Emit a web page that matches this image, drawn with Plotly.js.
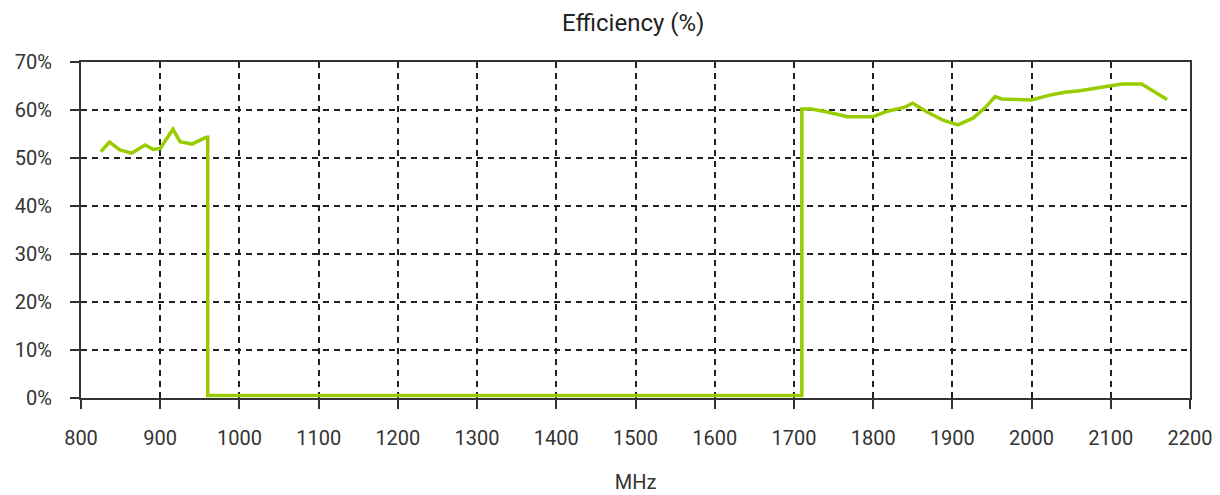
<!DOCTYPE html>
<html>
<head>
<meta charset="utf-8">
<script src="https://cdn.plot.ly/plotly-3.0.1.min.js"></script>
<style>html,body{margin:0;padding:0;background:#fff;}#chart{width:1220px;height:495px;}</style>
</head>
<body>
<div id="chart"></div>
<script>
const freqMHz = [825, 836, 849, 864, 881, 891, 900, 916, 925, 940, 958, 960, 960, 1710, 1710, 1722, 1739, 1752, 1768, 1800, 1817, 1840, 1850, 1867, 1888, 1907, 1926, 1941, 1954, 1962, 2000, 2023, 2042, 2061, 2078, 2097, 2114, 2139, 2154, 2171];
const efficiencyPct = [51.3, 53.3, 51.7, 51.0, 52.7, 51.8, 52.0, 56.0, 53.4, 52.9, 54.3, 54.3, 0.5, 0.5, 60.2, 60.2, 59.7, 59.2, 58.6, 58.6, 59.7, 60.6, 61.4, 59.7, 57.9, 56.9, 58.3, 60.4, 62.8, 62.3, 62.1, 63.1, 63.7, 64.0, 64.4, 64.9, 65.4, 65.4, 63.8, 62.2];
const xTicks = [800, 900, 1000, 1100, 1200, 1300, 1400, 1500, 1600, 1700, 1800, 1900, 2000, 2100, 2200];
const yTicks = [0, 10, 20, 30, 40, 50, 60, 70];

const font = {family: 'Roboto, "Noto Sans", sans-serif', size: 20, color: '#333'};

Plotly.newPlot('chart', [{
  x: freqMHz, y: efficiencyPct, type: 'scatter', mode: 'lines',
  line: {color: '#99cc00', width: 3.5}, hoverinfo: 'skip'
}], {
  width: 1220, height: 495,
  margin: {l: 81, r: 30, t: 62, b: 97},
  paper_bgcolor: '#fff', plot_bgcolor: '#fff',
  font: font,
  showlegend: false,
  title: {text: 'Efficiency (%)', x: 0.519, xanchor: 'center', y: 0.955, yanchor: 'middle', font: {family: font.family, size: 24, color: '#222'}},
  xaxis: {
    range: [800, 2200], tickvals: xTicks, ticktext: xTicks.map(String),
    showline: true, linecolor: '#333', linewidth: 2, mirror: true,
    ticks: 'outside', ticklen: 9, tickcolor: '#333', tickwidth: 2,
    ticklabelstandoff: 12,
    showgrid: true, gridcolor: '#222', gridwidth: 2, griddash: '6px,5px',
    zeroline: false, tickfont: font,
    title: {text: 'MHz', font: font, standoff: 26}
  },
  yaxis: {
    range: [0, 70], tickvals: yTicks, ticktext: yTicks.map(v => v + '%'),
    showline: true, linecolor: '#333', linewidth: 2, mirror: true,
    ticks: 'outside', ticklen: 9, tickcolor: '#333', tickwidth: 2,
    ticklabelstandoff: 14,
    showgrid: true, gridcolor: '#222', gridwidth: 2, griddash: '6px,5px',
    zeroline: false, tickfont: font
  }
}, {displayModeBar: false, staticPlot: true});
</script>
</body>
</html>
